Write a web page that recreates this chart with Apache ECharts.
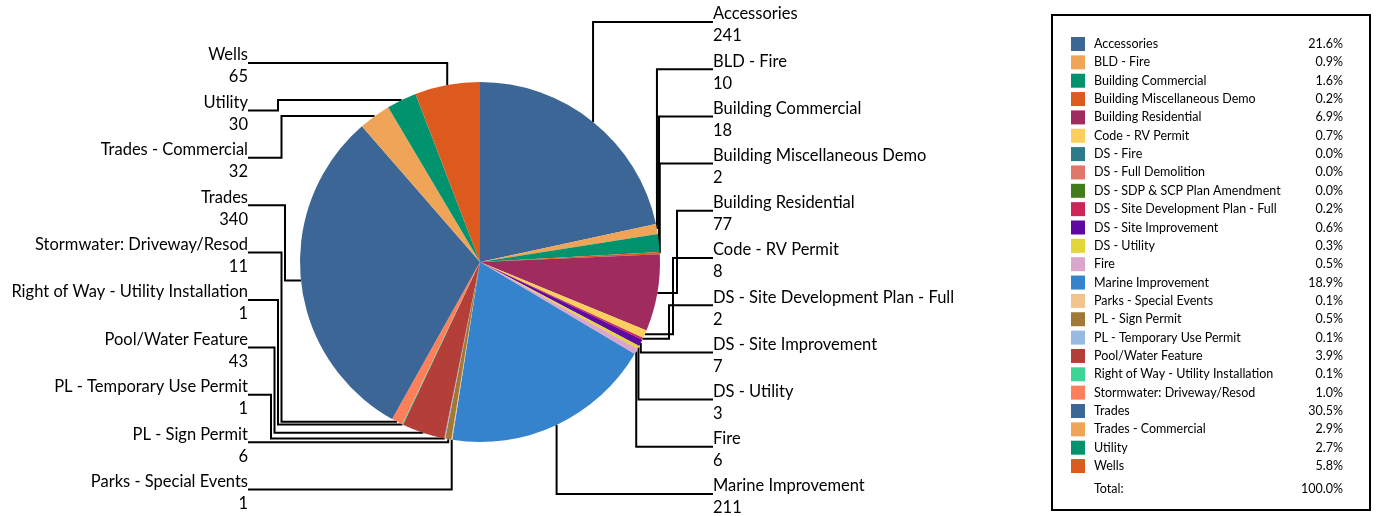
<!DOCTYPE html>
<html><head><meta charset="utf-8">
<script src="https://cdn.jsdelivr.net/npm/echarts@6/dist/echarts.min.js"></script>
<style>html,body{margin:0;padding:0;background:#fff}#c{width:1380px;height:516px}</style>
</head><body><div id="c"></div>
<script>
const categories = [
  'Accessories','BLD - Fire','Building Commercial','Building Miscellaneous Demo','Building Residential',
  'Code - RV Permit','DS - Fire','DS - Full Demolition','DS - SDP & SCP Plan Amendment',
  'DS - Site Development Plan - Full','DS - Site Improvement','DS - Utility','Fire','Marine Improvement',
  'Parks - Special Events','PL - Sign Permit','PL - Temporary Use Permit','Pool/Water Feature',
  'Right of Way - Utility Installation','Stormwater: Driveway/Resod','Trades','Trades - Commercial','Utility','Wells'
];
const counts = [241,10,18,2,77,8,0,0,0,2,7,3,6,211,1,6,1,43,1,11,340,32,30,65];
const colors = [
  '#3b6696','#f0a458','#00936e','#dd5a1e','#a02b5e','#ffcf5e','#2e7a8a','#e0756a','#437a1a',
  '#ce2458','#6009a0','#e2d53a','#dba6cb','#3583cc','#f2c38a','#a07838','#98b9e0','#b43e38',
  '#3cd596','#ff7f5a','#3b6696','#f0a458','#00936e','#dd5a1e'
];

const FONT = 'Lato';
const CX = 480, CY = 262, R = 180;
const total = counts.reduce((a, b) => a + b, 0);

// geometry of label leaders (layout only)
const info = [];
let cum = 0;
counts.forEach((v, i) => {
  const th = (cum + v / 2) / total * Math.PI * 2;
  cum += v;
  info.push({ i, v, th, side: Math.sin(th) >= 0 ? 'right' : 'left',
    p0: [CX + R * Math.sin(th), CY - R * Math.cos(th)] });
});
const rightItems = info.filter(d => d.v > 0 && d.side === 'right').sort((a, b) => a.th - b.th);
const leftItems = info.filter(d => d.v > 0 && d.side === 'left').sort((a, b) => b.th - a.th);
const layoutMap = {};
function place(items, side) {
  const edge = side === 'right' ? 713 : 248;
  const top = side === 'right' ? 14 : 55;
  const step = side === 'right' ? 47.2 : 47.4;
  items.forEach((d, s) => {
    d.slot = s;
    d.nameY = top + step * s;
    d.lineY = d.nameY + 8;
    const upper = Math.cos(d.th) > 0;
    d.clear = upper ? d.lineY <= d.p0[1] : d.lineY >= d.p0[1];
  });
  const elbows = items.filter(d => !d.clear);
  if (side === 'right') {
    elbows.forEach((d, k) => { d.xv = edge - 36 - 4 * k; });
  } else {
    const firstAbove = elbows.find(d => d.lineY < d.p0[1]);
    const pivot = firstAbove ? firstAbove.slot : 0;
    elbows.forEach(d => { d.xv = edge + 37 - 3.5 * Math.abs(d.slot - pivot); });
  }
  items.forEach(d => {
    const pts = d.clear
      ? [d.p0, [d.p0[0], d.lineY], [edge, d.lineY]]
      : [d.p0, [d.xv, d.p0[1]], [d.xv, d.lineY], [edge, d.lineY]];
    layoutMap[d.i] = { x: edge, y: d.nameY - 11, align: side === 'right' ? 'left' : 'right',
      verticalAlign: 'top', labelLinePoints: pts };
  });
}
place(rightItems, 'right');
place(leftItems, 'left');

const pct = v => (v / total * 100).toFixed(1) + '%';
const seriesData = categories.map((name, i) => ({
  name, value: counts[i],
  itemStyle: { color: colors[i] },
  label: { show: counts[i] > 0 },
  labelLine: { show: counts[i] > 0 }
}));

const chart = echarts.init(document.getElementById('c'), null, { renderer: 'canvas' });
chart.setOption({
  animation: false,
  backgroundColor: '#fff',
  legend: {
    orient: 'vertical', left: 1052, top: 15,
    padding: [22, 27, 37, 19],
    borderColor: '#000', borderWidth: 2,
    itemWidth: 14, itemHeight: 14, itemGap: 4.35,
    selectedMode: false,
    icon: 'rect',
    data: categories,
    formatter: name => '{n|' + name + '}{p|' + pct(counts[categories.indexOf(name)]) + '}',
    textStyle: {
      fontFamily: FONT, fontSize: 12.5, color: '#000',
      rich: {
        n: { width: 200, padding: [0, 0, 0, 4], fontFamily: FONT, fontSize: 12.5, color: '#000', lineHeight: 14 },
        p: { width: 49, align: 'right', fontFamily: FONT, fontSize: 12.5, color: '#000', lineHeight: 14 }
      }
    }
  },
  graphic: [
    { type: 'text', left: 1094, top: 482, style: { text: 'Total:', font: '12.5px ' + FONT, fill: '#000' } },
    { type: 'text', right: 1380 - 1343, top: 482, style: { text: (total / total * 100).toFixed(1) + '%', font: '12.5px ' + FONT, fill: '#000', textAlign: 'right' } }
  ],
  series: [{
    type: 'pie',
    center: [CX, CY], radius: R,
    startAngle: 90, clockwise: true,
    avoidLabelOverlap: false,
    data: seriesData,
    itemStyle: { borderWidth: 0 },
    emphasis: { disabled: true },
    label: {
      position: 'outside', color: '#000',
      formatter: p => '{n|' + p.name + '}\n{v|' + p.value + '}',
      rich: {
        n: { fontFamily: FONT, fontSize: 16.5, color: '#000', lineHeight: 22 },
        v: { fontFamily: FONT, fontSize: 16.5, color: '#000', lineHeight: 22 }
      }
    },
    labelLine: { show: true, smooth: false, lineStyle: { color: '#000', width: 2 } },
    labelLayout: params => layoutMap[params.dataIndex] || {}
  }]
});
</script>
</body></html>
